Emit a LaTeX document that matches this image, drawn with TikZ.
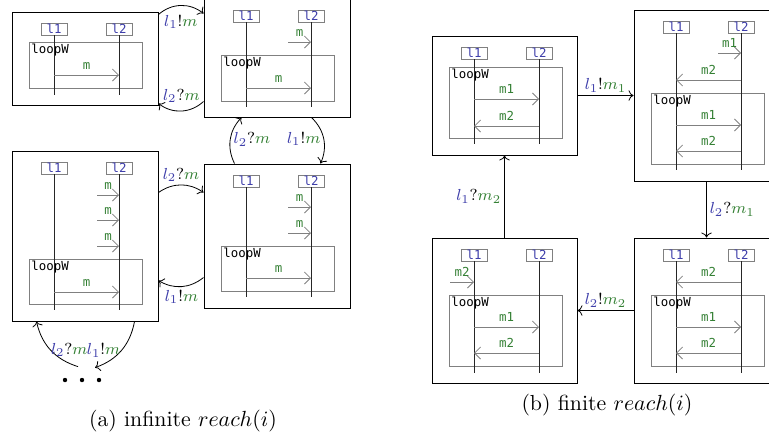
\documentclass[tikz,border=0pt]{standalone}
\usepackage{fontspec}
\usetikzlibrary{calc,arrows.meta}

\newfontfamily\codefont{DejaVu Sans Mono}
\definecolor{lblue}{RGB}{62,62,170}
\definecolor{mgreen}{RGB}{52,128,52}
\newcommand{\act}[3]{$\textcolor{lblue}{l_{#1}}#2\textcolor{mgreen}{#3}$}

\begin{document}
\begin{tikzpicture}[x=0.5pt,y=0.5pt,
	state/.style={draw,line width=0.5pt,inner sep=0pt,minimum width=73pt},
	lbox/.style={draw=gray,fill=white,minimum width=13pt,minimum height=6pt,inner sep=0.5pt,font=\fontsize{6.2}{7}\codefont,text=lblue},
	life/.style={draw=black!85,thin},
	msg/.style={draw=gray,-{Straight Barb[length=3pt,width=6pt]}},
	mlabel/.style={above=1.5pt,inner sep=1pt,font=\fontsize{6.2}{7}\codefont,text=mgreen},
	loopbox/.style={draw=gray,thin},
	looplbl/.style={anchor=north west,inner sep=1pt,font=\fontsize{6.2}{7}\codefont},
	trans/.style={->},
	elabel/.style={font=\footnotesize,inner sep=1.5pt}]
	\useasboundingbox (0,0) rectangle (769,-436);

	% states of the infinite case
	\node[state,minimum height=46.5pt] at (85,-58.5)  (a1) {};
	\node[state,minimum height=59pt]   at (277,-58)   (a2) {};
	\node[state,minimum height=85pt]   at (85,-236)   (a3) {};
	\node[state,minimum height=72pt]   at (277,-236)  (a4) {};
	\node[inner sep=0pt,minimum width=20pt,minimum height=8pt] at (82,-376) (dots) {};

	% states of the finite case
	\node[state,minimum width=72.5pt,minimum height=59.5pt] at (504.5,-95.5)  (b1) {};
	\node[state,minimum width=72.5pt,minimum height=85.5pt] at (706.5,-95.5)  (b2) {};
	\node[state,minimum width=72.5pt,minimum height=72.5pt] at (504.5,-310.5) (b3) {};
	\node[state,minimum width=72.5pt,minimum height=72.5pt] at (706.5,-310.5) (b4) {};

	% a1
	\begin{scope}[shift={(12,-12)}]
		\node[lbox] (a1l1) at (42,-17) {l1};
		\node[lbox] (a1l2) at (107,-17) {l2};
		\draw[loopbox] (17,-30) rectangle (130,-76);
		\node[looplbl] (a1loop) at (17,-30) {loopW};
		\draw[life] (a1l1) -- (42,-83);
		\draw[life] (a1l2) -- (107,-83);
		\draw[msg] (42,-63) -- node[mlabel] {m} (107,-63);
	\end{scope}

	% a2
	\begin{scope}[shift={(204,1)}]
		\node[lbox] (a2l1) at (42,-17) {l1};
		\node[lbox] (a2l2) at (107,-17) {l2};
		\draw[loopbox] (17,-56) rectangle (130,-102);
		\node[looplbl] (a2loop) at (17,-56) {loopW};
		\draw[life] (a2l1) -- (42,-108);
		\draw[life] (a2l2) -- (107,-108);
		\draw[msg] (84,-43) -- node[mlabel] {m} (107,-43);
		\draw[msg] (42,-89) -- node[mlabel] {m} (107,-89);
	\end{scope}

	% a3
	\begin{scope}[shift={(12,-151)}]
		\node[lbox] (a3l1) at (42,-17) {l1};
		\node[lbox] (a3l2) at (107,-17) {l2};
		\draw[loopbox] (17,-108) rectangle (130,-153);
		\node[looplbl] (a3loop) at (17,-108) {loopW};
		\draw[life] (a3l1) -- (42,-159);
		\draw[life] (a3l2) -- (107,-159);
		\foreach \y in {-44,-69,-95}
			\draw[msg] (85,\y) -- node[mlabel] {m} (107,\y);
		\draw[msg] (42,-141) -- node[mlabel] {m} (107,-141);
	\end{scope}

	% a4
	\begin{scope}[shift={(204,-164)}]
		\node[lbox] (a4l1) at (42,-17) {l1};
		\node[lbox] (a4l2) at (107,-17) {l2};
		\draw[loopbox] (17,-82) rectangle (130,-127);
		\node[looplbl] (a4loop) at (17,-82) {loopW};
		\draw[life] (a4l1) -- (42,-133);
		\draw[life] (a4l2) -- (107,-133);
		\foreach \y in {-43,-69}
			\draw[msg] (84,\y) -- node[mlabel] {m} (107,\y);
		\draw[msg] (42,-114) -- node[mlabel] {m} (107,-114);
	\end{scope}

	% b1
	\begin{scope}[shift={(432,-36)}]
		\node[lbox] (b1l1) at (42,-17) {l1};
		\node[lbox] (b1l2) at (107,-17) {l2};
		\draw[loopbox] (17,-31) rectangle (130,-102);
		\node[looplbl] (b1loop) at (17,-31) {loopW};
		\draw[life] (b1l1) -- (42,-108);
		\draw[life] (b1l2) -- (107,-108);
		\draw[msg] (42,-63) -- node[mlabel] {m1} (107,-63);
		\draw[msg] (107,-90) -- node[mlabel] {m2} (42,-90);
	\end{scope}

	% b2
	\begin{scope}[shift={(634,-10)}]
		\node[lbox] (b2l1) at (42,-17) {l1};
		\node[lbox] (b2l2) at (107,-17) {l2};
		\draw[loopbox] (17,-83) rectangle (130,-154);
		\node[looplbl] (b2loop) at (17,-83) {loopW};
		\draw[life] (b2l1) -- (42,-160);
		\draw[life] (b2l2) -- (107,-160);
		\draw[msg] (84,-43) -- node[mlabel] {m1} (107,-43);
		\draw[msg] (107,-70) -- node[mlabel] {m2} (42,-70);
		\draw[msg] (42,-115) -- node[mlabel] {m1} (107,-115);
		\draw[msg] (107,-141) -- node[mlabel] {m2} (42,-141);
	\end{scope}

	% b3
	\begin{scope}[shift={(432,-238)}]
		\node[lbox] (b3l1) at (42,-17) {l1};
		\node[lbox] (b3l2) at (107,-17) {l2};
		\draw[loopbox] (17,-57) rectangle (130,-128);
		\node[looplbl] (b3loop) at (17,-57) {loopW};
		\draw[life] (b3l1) -- (42,-135);
		\draw[life] (b3l2) -- (107,-135);
		\draw[msg] (18,-44) -- node[mlabel] {m2} (42,-44);
		\draw[msg] (42,-89) -- node[mlabel] {m1} (107,-89);
		\draw[msg] (107,-115) -- node[mlabel] {m2} (42,-115);
	\end{scope}

	% b4
	\begin{scope}[shift={(634,-238)}]
		\node[lbox] (b4l1) at (42,-17) {l1};
		\node[lbox] (b4l2) at (107,-17) {l2};
		\draw[loopbox] (17,-57) rectangle (130,-128);
		\node[looplbl] (b4loop) at (17,-57) {loopW};
		\draw[life] (b4l1) -- (42,-135);
		\draw[life] (b4l2) -- (107,-135);
		\draw[msg] (107,-44) -- node[mlabel] {m2} (42,-44);
		\draw[msg] (42,-89) -- node[mlabel] {m1} (107,-89);
		\draw[msg] (107,-115) -- node[mlabel] {m2} (42,-115);
	\end{scope}

	% transitions, infinite case
	\draw[trans] ($(a1.north east)+(0,-3)$) to[bend left=40] node[elabel,below=3pt] {\act{1}{!}{m}} ($(a2.north west)+(0,-15)$);
	\draw[trans] ($(a2.south west)+(0,16)$) to[bend left=40] node[elabel,above=2.5pt] {\act{2}{?}{m}} ($(a1.south east)+(0,2)$);
	\draw[trans] ($(a4.north west)+(31,0)$) to[bend left=35] node[elabel,right] {\act{2}{?}{m}} ($(a2.south west)+(38,0)$);
	\draw[trans] ($(a2.south west)+(108,0)$) to[bend left=35] node[elabel,left] {\act{1}{!}{m}} ($(a4.north west)+(117,0)$);
	\draw[trans] ($(a3.north east)+(0,-42)$) to[bend left=35] node[elabel,above] {\act{2}{?}{m}} ($(a4.north west)+(0,-29)$);
	\draw[trans] ($(a4.north west)+(0,-114)$) to[bend left=35] node[elabel,below] {\act{1}{!}{m}} ($(a3.north east)+(0,-130)$);
	\draw[trans] ($(a3.south west)+(123,0)$) to[bend left=30] node[elabel,left=-1pt] {\act{1}{!}{m}} ($(dots.north)+(13,0)$);
	\draw[trans] ($(dots.north)+(-4,1)$) to[bend left=30] node[elabel,right=-1.5pt] {\act{2}{?}{m}} ($(a3.south west)+(25,0)$);
	\foreach \dx in {-17,0,17}
		\fill ($(dots.center)+(\dx,-4)$) circle (1.1pt);

	% transitions, finite case
	\draw[trans] (b1) -- node[elabel,above] {\act{1}{!}{m_1}} (b2);
	\draw[trans] (b2) -- node[elabel,right] {\act{2}{?}{m_1}} (b4);
	\draw[trans] (b4) -- node[elabel,above] {\act{2}{!}{m_2}} (b3);
	\draw[trans] (b3) -- node[elabel,left] {\act{1}{?}{m_2}} (b1);

	% captions
	\node[font=\fontsize{10.9}{13}\selectfont] (capa) at (183,-421) {(a) infinite $reach(i)$};
	\node[font=\fontsize{10.9}{13}\selectfont] (capb) at (607,-405) {(b) finite $reach(i)$};
\end{tikzpicture}
\end{document}
